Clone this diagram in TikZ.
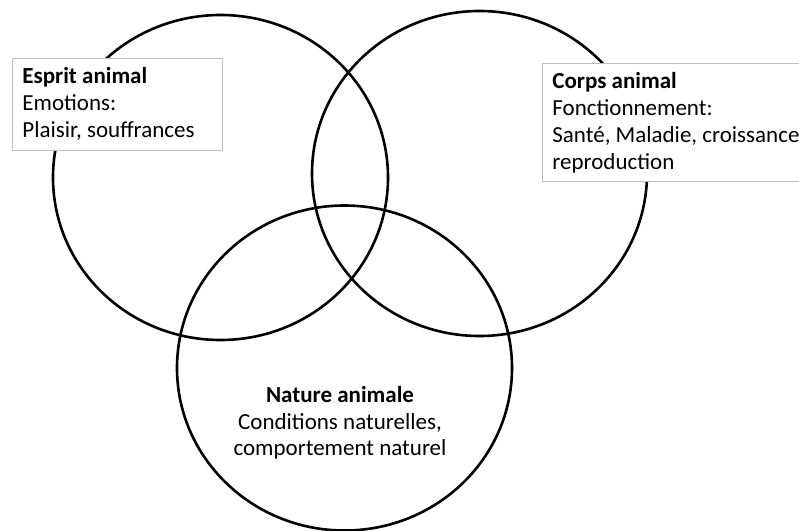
\documentclass[tikz,border=0pt]{standalone}
\usepackage{fontspec}
\setmainfont{Carlito}
\usetikzlibrary{shapes.geometric}
\begin{document}
\begin{tikzpicture}[x=1pt,y=-1pt,
  venn/.style={ellipse, draw=black, line width=2.6pt, minimum width=335pt, minimum height=325pt, inner sep=0pt},
  labelbox/.style={draw=black!25, line width=0.8pt, fill=white, anchor=north west, align=flush left,
    inner xsep=10pt, inner ysep=0pt, font=\fontsize{23}{27}\selectfont},
  plaintext/.style={align=center, font=\fontsize{23}{26.5}\selectfont}]
\useasboundingbox (0,0) rectangle (799,530);
\clip (0,0) rectangle (799,530);
\node[venn] (esprit) at (220.5,177.5) {};
\node[venn] (corps) at (479.5,173.5) {};
\node[venn] (nature) at (344.5,368) {};
\node[labelbox, minimum width=210pt, minimum height=92pt, text width=190pt] (boxE) at (12,58)
  {\textbf{Esprit animal}\\Emotions:\\Plaisir, souffrances};
\node[labelbox, minimum width=280pt, minimum height=118pt, text width=260pt] (boxC) at (542,63)
  {\textbf{Corps animal}\\Fonctionnement:\\Santé, Maladie, croissance\\reproduction};
\node[plaintext] (boxN) at (340,423)
  {\textbf{Nature animale}\\Conditions naturelles,\\comportement naturel};
\end{tikzpicture}
\end{document}
